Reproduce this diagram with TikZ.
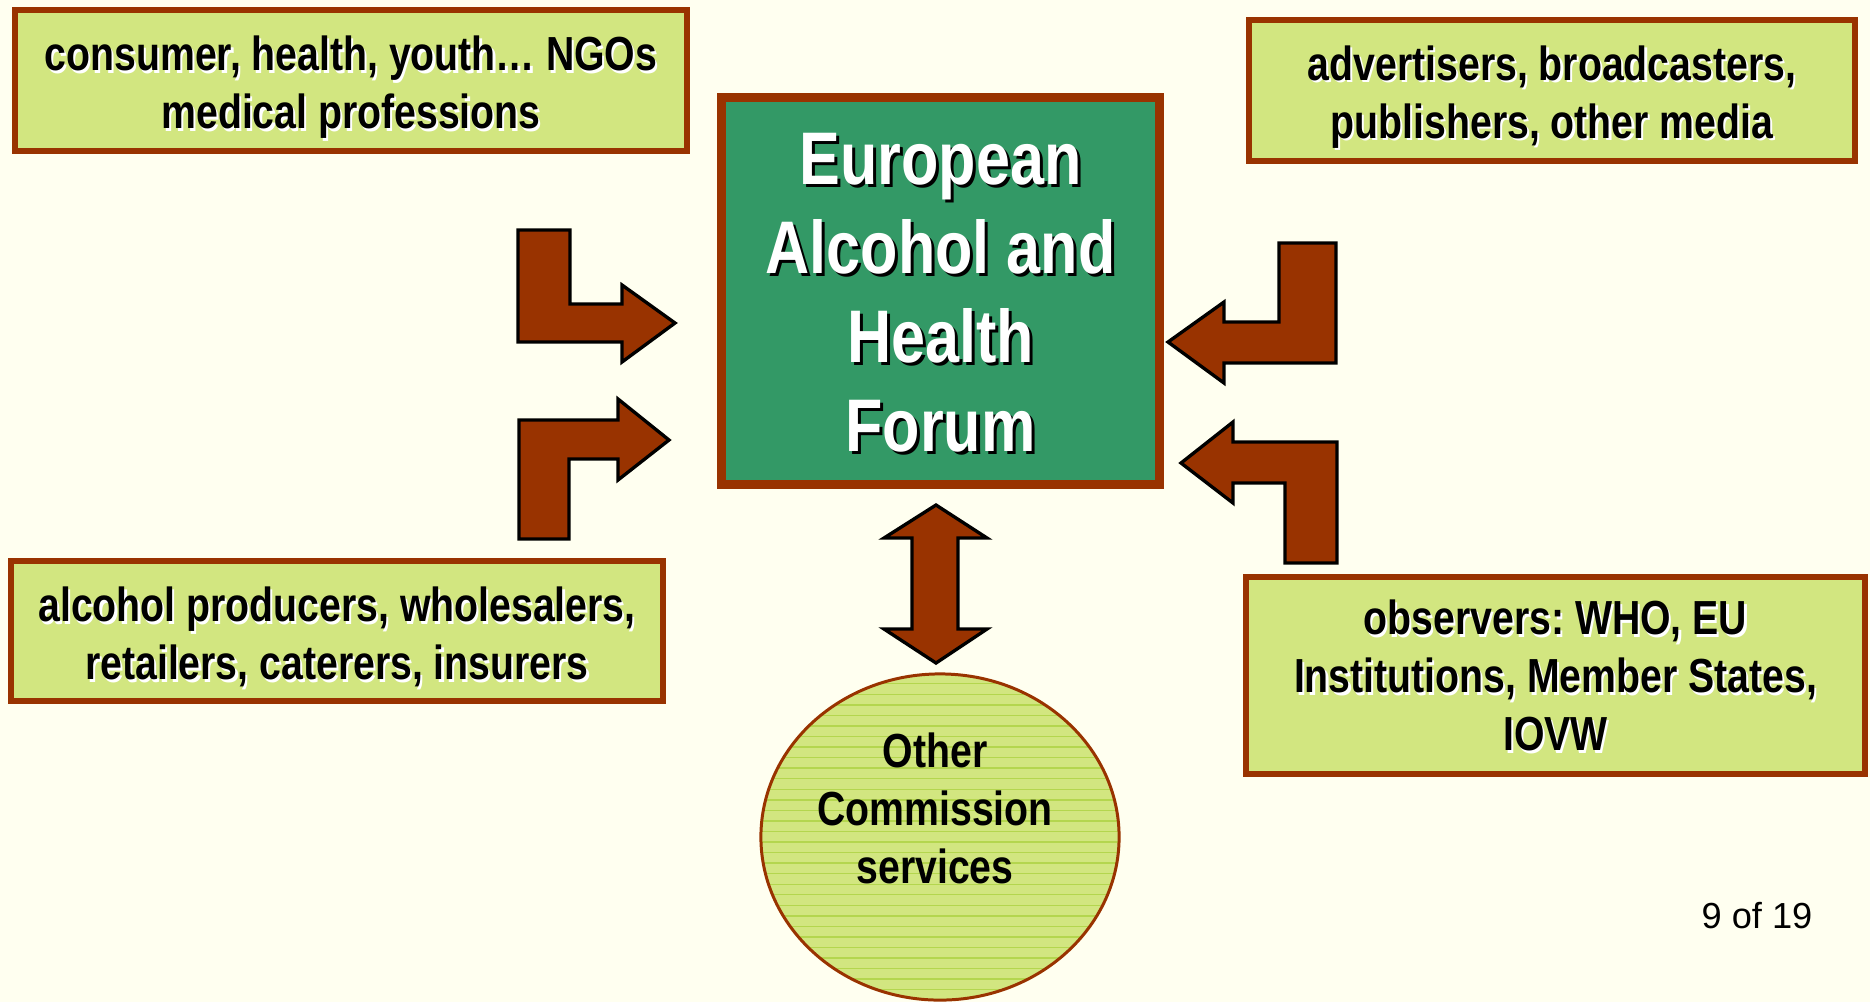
\documentclass[tikz,border=0pt]{standalone}
\usepackage{fontspec}
\setmainfont{Liberation Sans}
\newfontfamily\narrowfont[FakeStretch=0.82]{Liberation Sans}
\usetikzlibrary{shapes.geometric,patterns}
\frenchspacing

\definecolor{bgcream}{RGB}{255,255,240}
\definecolor{boxgreen}{RGB}{210,230,128}
\definecolor{framebrown}{RGB}{153,51,0}
\definecolor{forumgreen}{RGB}{51,153,102}
\definecolor{stripegreen}{RGB}{180,214,78}

% text with a small offset shadow behind it, lowered by \textdrop
\newlength{\textdrop}
\newcommand{\litshadow}[1]{\raisebox{-\textdrop}[\height][\depth]{\makebox[0pt][l]{\hspace{0.6pt}\raisebox{-0.6pt}{\color{white}#1}}#1}}
\newcommand{\darkshadow}[1]{\raisebox{-\textdrop}[\height][\depth]{\makebox[0pt][l]{\hspace{0.9pt}\raisebox{-0.9pt}{\color{black}#1}}#1}}

\tikzset{
  textdrop/.code={\setlength{\textdrop}{#1}},
  sidebox/.style={draw=framebrown, line width=1.7pt, fill=boxgreen, inner sep=0pt,
    align=center, font=\narrowfont\fontsize{13.6}{16.5}\selectfont\bfseries},
  forumbox/.style={draw=framebrown, line width=2.6pt, fill=forumgreen, inner sep=0pt,
    text=white, align=center, font=\narrowfont\fontsize{21.2}{25.3}\selectfont\bfseries},
  blockarrow/.style={fill=framebrown, draw=black, line width=0.95pt, line join=miter},
}

\begin{document}
\begin{tikzpicture}[x=0.01cm, y=-0.01cm]
  \fill[bgcream] (0,0) rectangle (1870,1002);
  \useasboundingbox (0,0) rectangle (1870,1002);

  % Forum
  \node[forumbox, textdrop=1pt, minimum width=4.38cm, minimum height=3.87cm] (forum) at (940.5,291)
    {\darkshadow{European}\\ \darkshadow{Alcohol and}\\ \darkshadow{Health}\\ \darkshadow{Forum}};

  % Stakeholder groups
  \node[sidebox, textdrop=2.3pt, minimum width=6.72cm, minimum height=1.41cm] (ngos) at (351,80.5)
    {\litshadow{consumer, health, youth… NGOs}\\ \litshadow{medical professions}};
  \node[sidebox, textdrop=2.2pt, minimum width=6.06cm, minimum height=1.41cm] (media) at (1552,90.5)
    {\litshadow{advertisers, broadcasters,}\\ \litshadow{publishers, other media}};
  \node[sidebox, textdrop=2.1pt, minimum width=6.52cm, minimum height=1.40cm] (industry) at (337,631)
    {\litshadow{alcohol producers, wholesalers,}\\ \litshadow{retailers, caterers, insurers}};
  \node[sidebox, textdrop=0.4pt, minimum width=6.19cm, minimum height=1.97cm] (observers) at (1555.5,675.5)
    {\litshadow{observers: WHO, EU}\\ \litshadow{Institutions, Member States,}\\ \litshadow{IOVW}};

  % Commission services
  \node[ellipse, draw=framebrown, line width=0.85pt, preaction={fill=boxgreen},
    pattern=horizontal lines, pattern color=stripegreen,
    minimum width=3.58cm, minimum height=3.26cm, inner sep=0pt] (other) at (940,837) {};
  \node[align=center, font=\narrowfont\fontsize{13.6}{16.5}\selectfont\bfseries] (othertext) at (935,808)
    {Other\\Commission\\services};

  % Block arrows
  \draw[blockarrow] (518,230) -- (570,230) -- (570,304) -- (622,304) -- (622,285)
    -- (675,323) -- (622,362) -- (622,342) -- (518,342) -- cycle;
  \draw[blockarrow] (519,539) -- (519,420) -- (618,420) -- (618,399) -- (669,440)
    -- (618,480) -- (618,459) -- (569,459) -- (569,539) -- cycle;
  \draw[blockarrow] (1336,243) -- (1336,363) -- (1224,363) -- (1224,383) -- (1168,342)
    -- (1224,302) -- (1224,322) -- (1279,322) -- (1279,243) -- cycle;
  \draw[blockarrow] (1337,563) -- (1337,442) -- (1233,442) -- (1233,422) -- (1181,463)
    -- (1233,503) -- (1233,483) -- (1285,483) -- (1285,563) -- cycle;
  \draw[blockarrow] (936,505) -- (987,538) -- (958,538) -- (958,629) -- (987,629)
    -- (936,663) -- (884,629) -- (912,629) -- (912,538) -- (884,538) -- cycle;

  % Page number
  \node[font=\fontsize{10.3}{12}\selectfont] (page) at (1757,916) {9 of 19};
\end{tikzpicture}
\end{document}
